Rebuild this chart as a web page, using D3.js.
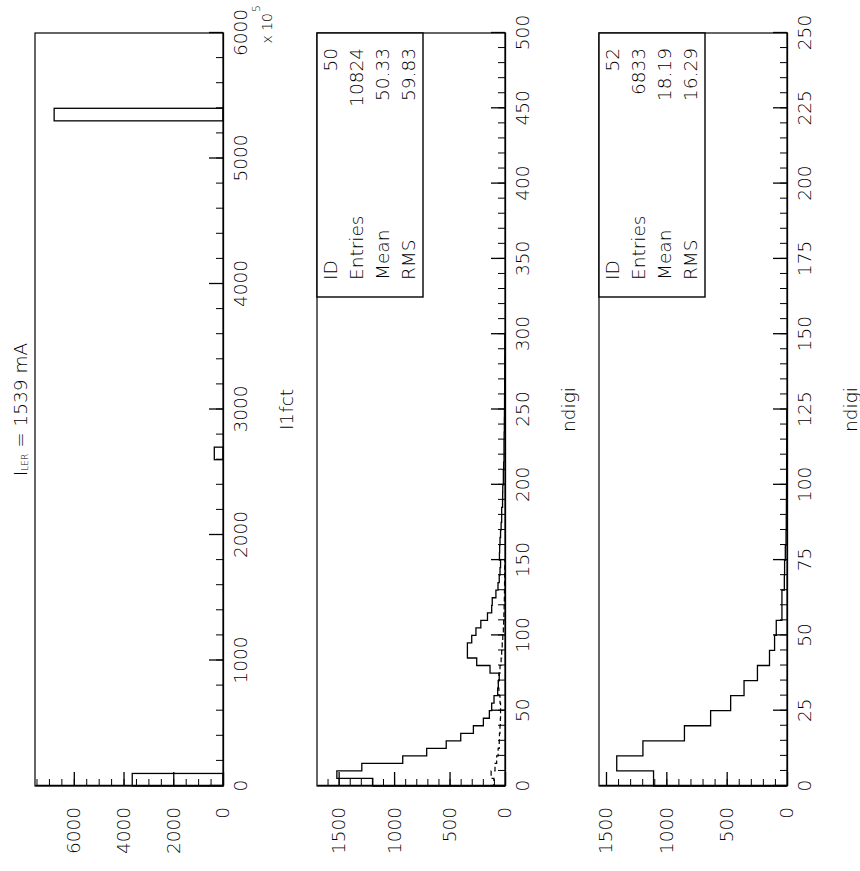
<!DOCTYPE html>
<html>
<head>
<meta charset="utf-8">
<script src="https://cdn.jsdelivr.net/npm/d3@7"></script>
<style>
  body { margin: 0; background: #fff; }
  svg text { font-family: 'DejaVu Sans', sans-serif; font-weight: 200; fill: #000; font-size: 18.5px; }
</style>
</head>
<body>
<svg id="chart" width="860" height="871"></svg>
<script>
// ---- data ----
const titleMain = 'I';
const titleSub = 'LER';
const titleRest = ' = 1539 mA';

// panel 1: I1fct (units of 10^5), bins of 100
const i1fctBinLow = [0, 2600, 5300];
const i1fctCounts = [3650, 350, 6790];

// panel 2: ndigi, ID 50, bins of 5 from 0
const ndigi50 = [1192, 1516, 1291, 922, 706, 530, 399, 285, 195, 141,
  120, 99, 66, 60, 52, 135, 255, 339, 339, 300,
  262, 218, 158, 120, 115, 82, 63, 52, 45, 40,
  50, 48, 45, 40, 35, 30, 30, 22, 21, 20,
  15, 15, 12, 9, 9, 9, 8, 6, 6, 5,
  4, 4, 3, 3, 2, 2, 2, 1, 1, 1];
// dashed overlay in panel 2
const ndigi50Dashed = [100, 125, 90, 75, 62, 52, 50, 45, 42, 40,
  40, 45, 55, 60, 55, 45, 35, 30, 25, 20,
  15, 12, 10, 8, 6, 5, 4, 3, 3, 2];
const stats50 = [['ID', '50'], ['Entries', '10824'], ['Mean', '50.33'], ['RMS', '59.83']];

// panel 3: ndigi, ID 52, bins of 5 from 0
const ndigi52 = [1106, 1411, 1194, 850, 633, 467, 356, 245, 145, 103,
  89, 42, 42, 22, 20, 14, 8, 6, 5, 4,
  3, 3, 2, 2, 1];
const stats52 = [['ID', '52'], ['Entries', '6833'], ['Mean', '18.19'], ['RMS', '16.29']];

// ---- layout (landscape page, rotated onto the portrait canvas) ----
const pageW = 871;
const frameX0 = 85, frameX1 = 838;
const frameTop0 = 35, frameH = 188, panelStep = 282;

const svg = d3.select('#chart');
const page = svg.append('g').attr('transform', 'translate(0,' + pageW + ') rotate(-90)');

// title
const title = page.append('text')
  .attr('x', (frameX0 + frameX1) / 2)
  .attr('y', 27)
  .attr('text-anchor', 'middle');
title.append('tspan').text(titleMain);
title.append('tspan').style('font-size', '9px').attr('dy', 1).text(titleSub);
title.append('tspan').attr('dy', -1).text(titleRest);

function stepPoints(counts, width) {
  const pts = [[0, 0]];
  counts.forEach(function (c, k) {
    pts.push([k * width, c], [(k + 1) * width, c]);
  });
  pts.push([counts.length * width, 0]);
  return pts;
}

function drawPanel(i, opt) {
  const top = frameTop0 + i * panelStep;
  const bottom = top + frameH;
  const x = d3.scaleLinear().domain([0, opt.xMax]).range([frameX0, frameX1]);
  const y = d3.scaleLinear().domain([0, opt.yMax]).range([bottom, top]);
  const g = page.append('g');

  // frame
  g.append('rect')
    .attr('x', frameX0).attr('y', top)
    .attr('width', frameX1 - frameX0).attr('height', frameH)
    .attr('fill', 'none').attr('stroke', '#000').attr('stroke-width', 1.2);

  // x axis: minor then major ticks pointing inward
  g.append('g')
    .attr('transform', 'translate(0,' + bottom + ')')
    .call(d3.axisBottom(x).tickValues(d3.range(0, opt.xMax + 1e-9, opt.xMinor))
      .tickSize(-7).tickSizeOuter(0).tickFormat(''))
    .call(function (a) { a.select('.domain').attr('stroke-width', 1.3); });
  const xa = g.append('g')
    .attr('transform', 'translate(0,' + bottom + ')')
    .call(d3.axisBottom(x).tickValues(d3.range(0, opt.xMax + 1e-9, opt.xMajor))
      .tickSize(-14).tickSizeOuter(0).tickPadding(11).tickFormat(d3.format('d')));
  xa.attr('font-family', null).attr('font-size', null);
  xa.select('.domain').remove();
  xa.selectAll('line').attr('stroke-width', 1.3);

  // count axis
  g.append('g')
    .attr('transform', 'translate(' + frameX0 + ',0)')
    .call(d3.axisLeft(y).tickValues(d3.range(0, opt.yMax, opt.yMinor))
      .tickSize(-7).tickSizeOuter(0).tickFormat(''))
    .call(function (a) { a.select('.domain').attr('stroke-width', 1.3); });
  const ya = g.append('g')
    .attr('transform', 'translate(' + frameX0 + ',0)')
    .call(d3.axisLeft(y).tickValues(d3.range(0, opt.yMax, opt.yMajor))
      .tickSize(-14).tickSizeOuter(0).tickPadding(21).tickFormat(d3.format('d')));
  ya.attr('font-family', null).attr('font-size', null);
  ya.select('.domain').remove();
  ya.selectAll('line').attr('stroke-width', 1.3);

  // axis title
  g.append('text')
    .attr('x', (frameX0 + frameX1) / 2)
    .attr('y', bottom + 70)
    .attr('text-anchor', 'middle')
    .text(opt.xTitle);

  const line = d3.line().x(function (d) { return x(d[0]); }).y(function (d) { return y(d[1]); });

  if (opt.bars) {
    g.append('g').selectAll('rect')
      .data(opt.bars)
      .enter()
      .append('rect')
      .attr('x', function (d) { return x(d[0]); })
      .attr('y', function (d) { return y(d[1]); })
      .attr('width', function (d) { return x(d[0] + opt.binW) - x(d[0]); })
      .attr('height', function (d) { return y(0) - y(d[1]); })
      .attr('fill', 'none').attr('stroke', '#000').attr('stroke-width', 1.3);
  }
  if (opt.dashed) {
    g.append('path')
      .attr('d', line(stepPoints(opt.dashed, opt.binW)))
      .attr('fill', 'none').attr('stroke', '#000').attr('stroke-width', 1.2)
      .attr('stroke-dasharray', '5,3');
  }
  if (opt.counts) {
    g.append('path')
      .attr('d', line(stepPoints(opt.counts, opt.binW)))
      .attr('fill', 'none').attr('stroke', '#000').attr('stroke-width', 1.3);
  }

  // statistics box
  if (opt.stats) {
    const bx0 = 574;
    g.append('rect')
      .attr('x', bx0).attr('y', top)
      .attr('width', frameX1 - bx0).attr('height', 106)
      .attr('fill', '#fff').attr('stroke', '#000').attr('stroke-width', 1.4);
    opt.stats.forEach(function (s, k) {
      g.append('text').attr('x', bx0 + 17).attr('y', top + 20 + k * 26).text(s[0]);
      g.append('text').attr('x', frameX1 - 15).attr('y', top + 20 + k * 26)
        .attr('text-anchor', 'end').text(s[1]);
    });
  }
  return g;
}

const p1 = drawPanel(0, {
  xMax: 6000, xMajor: 1000, xMinor: 200,
  yMax: 7560, yMajor: 2000, yMinor: 500,
  binW: 100, xTitle: 'I1fct',
  bars: i1fctBinLow.map(function (b, k) { return [b, i1fctCounts[k]]; })
});
// exponent note for the I1fct axis
p1.append('text').attr('x', 858).attr('y', 272)
  .attr('text-anchor', 'end').style('font-size', '14px').text('x 10');
p1.append('text').attr('x', 859).attr('y', 260)
  .style('font-size', '11px').text('5');

drawPanel(1, {
  xMax: 500, xMajor: 50, xMinor: 10,
  yMax: 1695, yMajor: 500, yMinor: 100,
  binW: 5, xTitle: 'ndigi',
  counts: ndigi50, dashed: ndigi50Dashed, stats: stats50
});

drawPanel(2, {
  xMax: 250, xMajor: 25, xMinor: 5,
  yMax: 1558, yMajor: 500, yMinor: 100,
  binW: 5, xTitle: 'ndigi',
  counts: ndigi52, stats: stats52
});
</script>
</body>
</html>
